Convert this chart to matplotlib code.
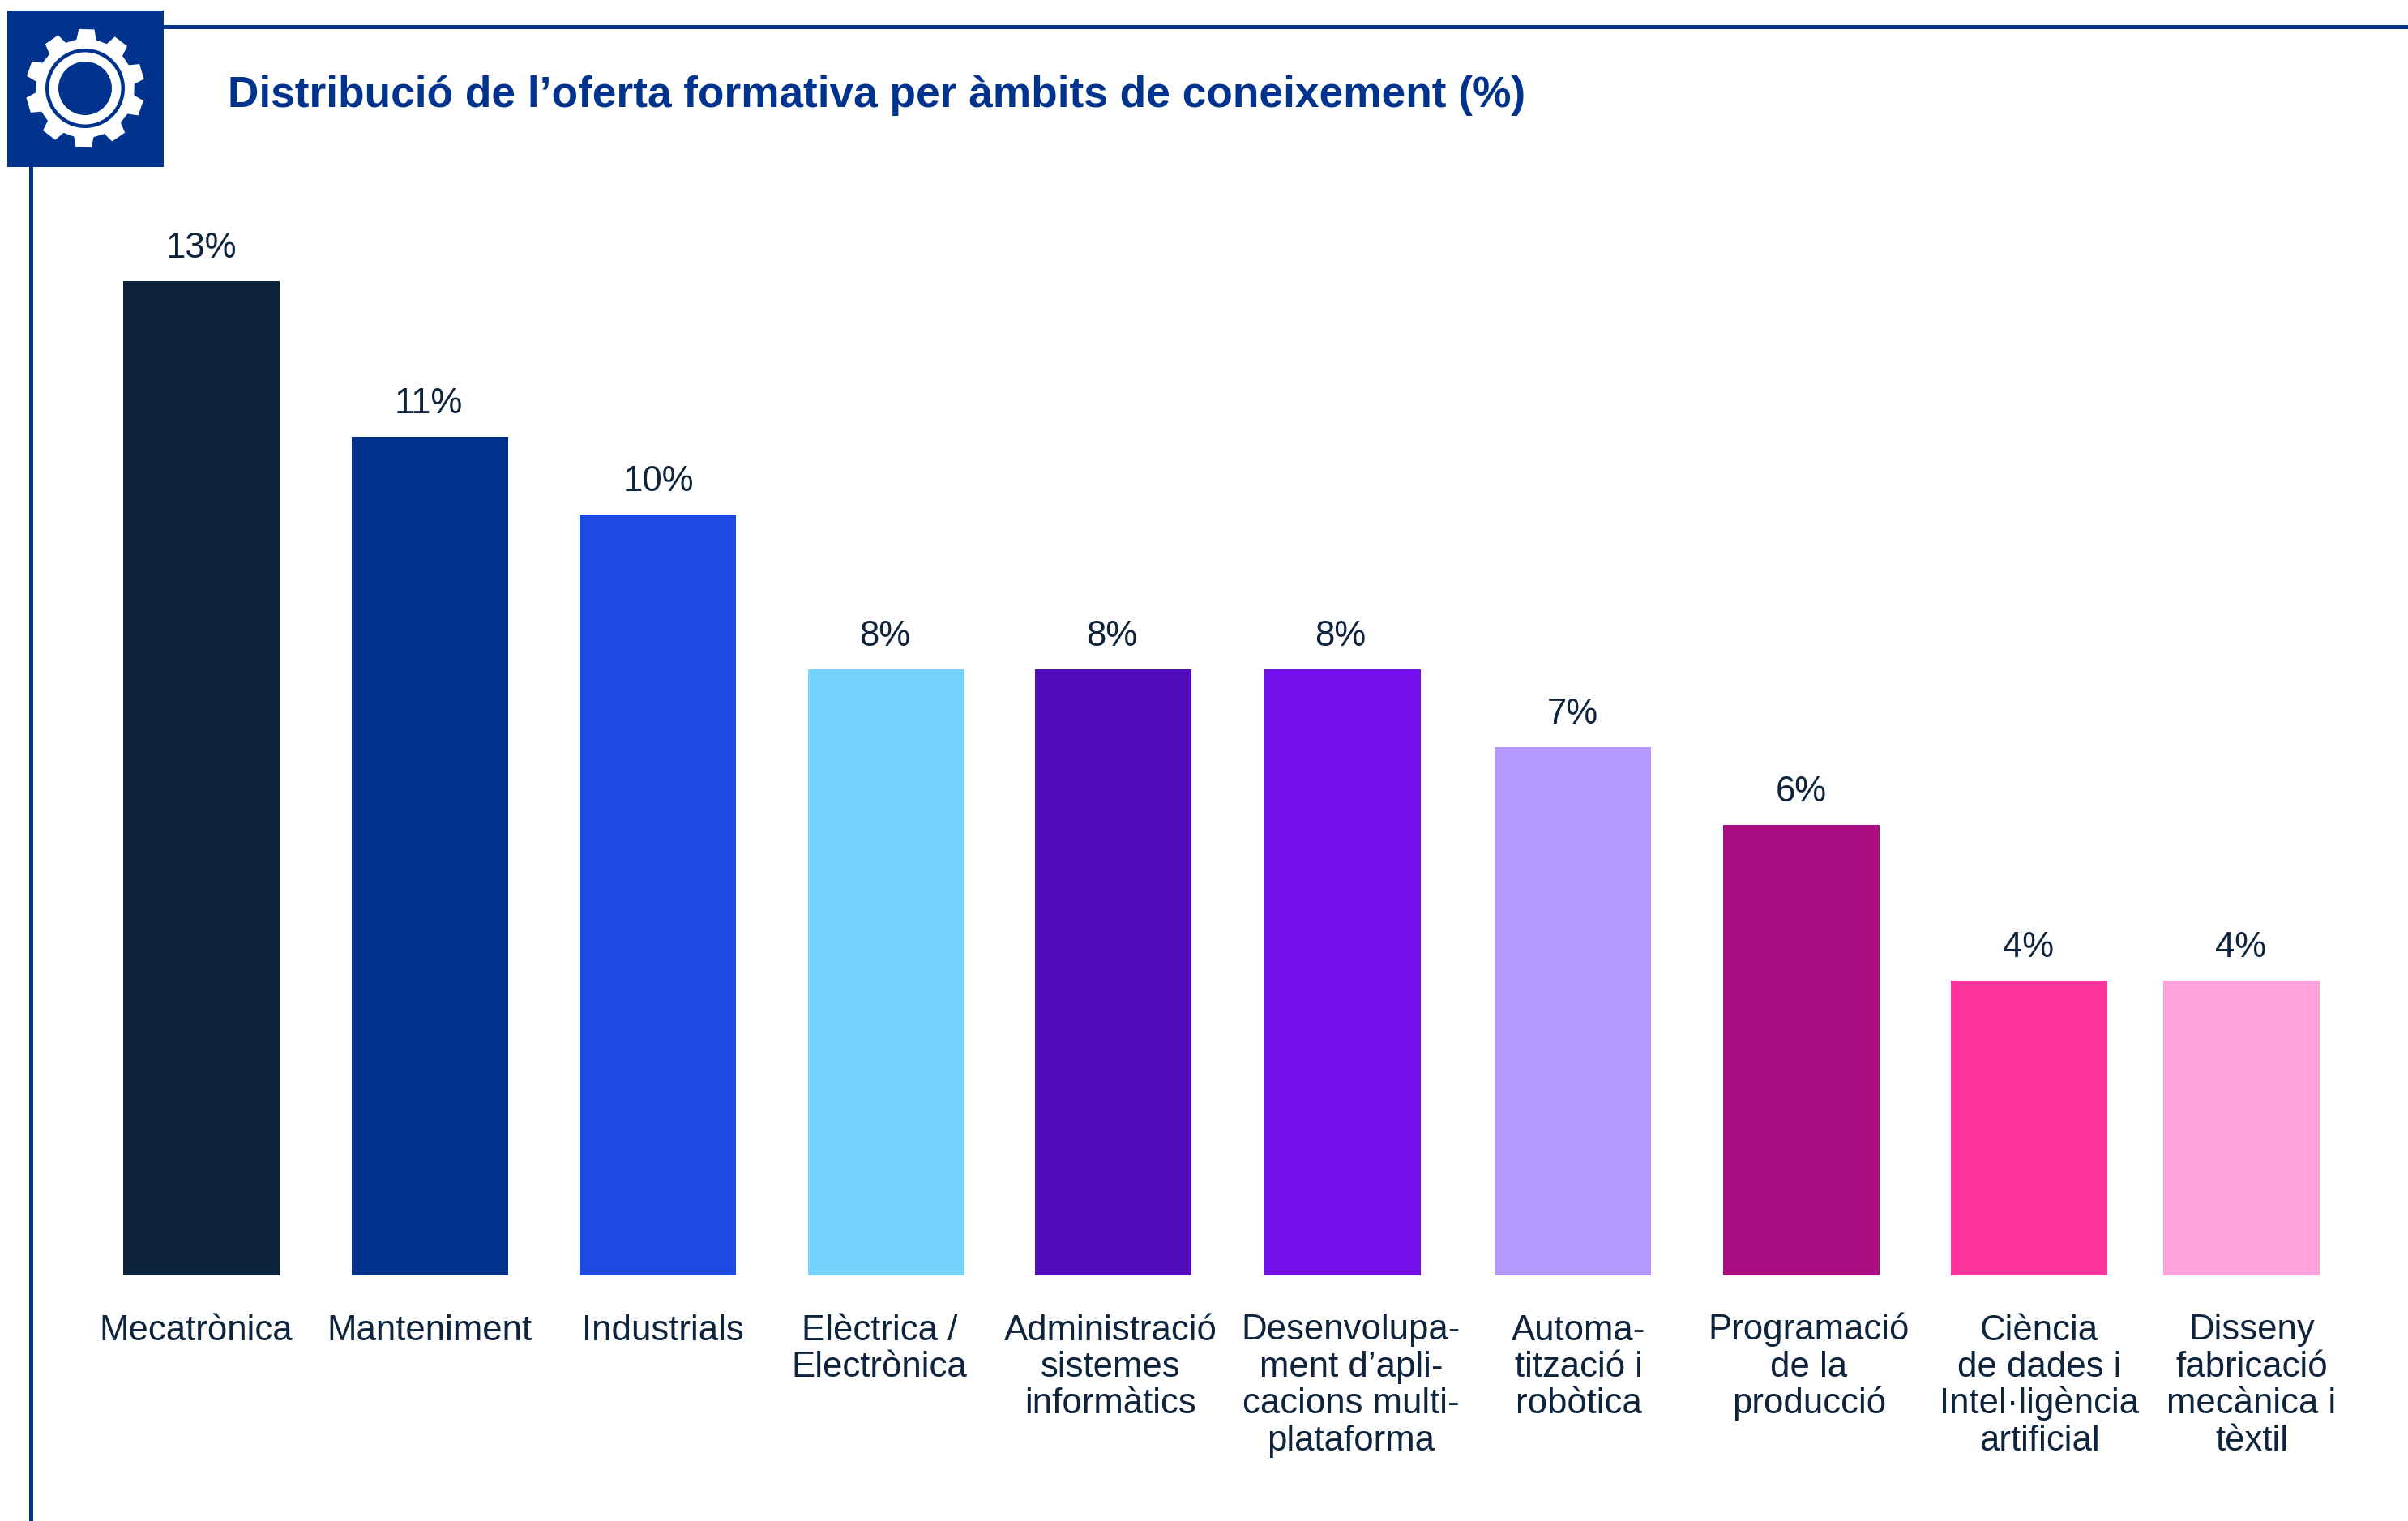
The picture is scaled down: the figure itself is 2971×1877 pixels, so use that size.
import numpy as np
import matplotlib
matplotlib.use("Agg")
import matplotlib.pyplot as plt
from matplotlib.patches import Polygon, Circle, Rectangle

W = 2971
H = 1877

categories = ["Mecatrònica", "Manteniment", "Industrials", "Elèctrica /\nElectrònica",
              "Administració\nsistemes\ninformàtics", "Desenvolupa-\nment d’apli-\ncacions multi-\nplataforma",
              "Automa-\ntització i\nrobòtica", "Programació\nde la\nproducció",
              "Ciència\nde dades i\nIntel·ligència\nartificial", "Disseny\nfabricació\nmecànica i\ntèxtil"]
values = [13, 11, 10, 8, 8, 8, 7, 6, 4, 4]
colors = ["#0E243C", "#00338D", "#1E49E2", "#76D2FF", "#510DBC", "#7210EA",
          "#B497FF", "#AB0D82", "#FD349C", "#FFA3DA"]

# centri delle barre e delle etichette in pixel
bar_x = [248.5, 530.5, 811, 1093.5, 1373.5, 1656, 1940.5, 2222.5, 2503, 2765]
val_x = [248, 529, 812, 1092, 1372, 1654, 1940, 2222, 2503, 2765]
lab_x = [242, 530, 818, 1085, 1370, 1667, 1948, 2232, 2516, 2778]

plt.rcParams["font.family"] = ["Liberation Sans", "DejaVu Sans"]
navy = "#00338D"
dark = "#0E243C"
fig = plt.figure(figsize=(W / 100, H / 100), dpi=100, facecolor="white")

# asse pixel per decorazioni e testi
deco = fig.add_axes([0, 0, 1, 1])
deco.set_xlim(0, W)
deco.set_ylim(H, 0)
deco.axis("off")

# asse delle barre: base a y=1574, 95.9 px per punto percentuale
base = 1574
px = 95.9
ax = fig.add_axes([0, (H - base) / H, 1, base / H])
ax.set_xlim(0, W)
ax.set_ylim(0.205, 0.205 + base / px)
ax.axis("off")
ax.patch.set_alpha(0)
ax.bar(bar_x, values, width=193, color=colors, linewidth=0)

for x, v in zip(val_x, values):
    ax.annotate(f"{v}%", (x, v), xytext=(0, 20), textcoords="offset pixels",
                ha="center", va="bottom", fontsize=31.5, color=dark)
# una riga alla volta, cosi' la base del testo non dipende dagli accenti
for x, c in zip(lab_x, categories):
    for i, riga in enumerate(c.split("\n")):
        deco.text(x, 1653.5 + i * 45.4, riga, ha="center", va="baseline", fontsize=31.5, color=dark)

deco.text(281, 118, "Distribució de l’oferta formativa per àmbits de coneixement (%)",
          ha="left", va="center", fontsize=38.38, fontweight="bold", color=navy)

# cornice
deco.add_patch(Rectangle((202, 30.5), W - 202, 5, color=navy, lw=0))
deco.add_patch(Rectangle((36, 206), 5, H - 206, color=navy, lw=0))
deco.add_patch(Rectangle((9, 13), 193, 193, color=navy, lw=0))

# ingranaggio
cx, cy = 105, 109
n = 10
pts = []
for i in range(n):
    a = np.radians(-88.5 + i * 36)
    for da, r in [(-11.5, 61), (-7.5, 73.5), (7.5, 73.5), (11.5, 61)]:
        t = a + np.radians(da)
        pts.append((cx + r * np.cos(t), cy + r * np.sin(t)))
deco.add_patch(Polygon(pts, closed=True, color="white", lw=0))
deco.add_patch(Circle((cx, cy), 49, color=navy, lw=0))
deco.add_patch(Circle((cx, cy), 44.5, color="white", lw=0))
deco.add_patch(Circle((cx, cy), 33, color=navy, lw=0))

fig.savefig("out.png", dpi=100)
